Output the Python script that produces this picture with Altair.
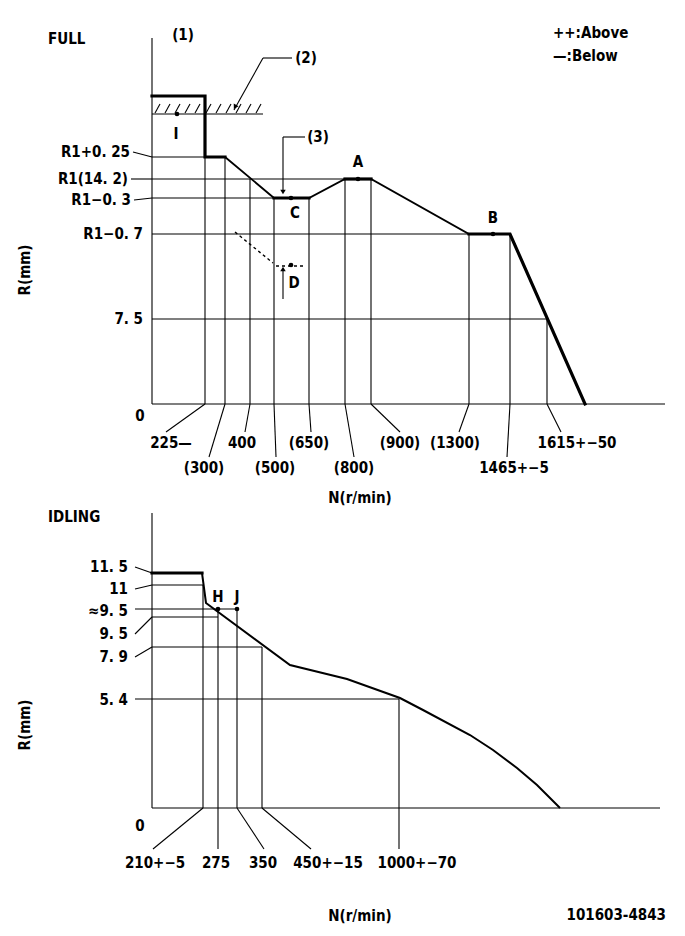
import altair as alt
import pandas as pd

FONT = "DejaVu Sans Condensed, DejaVu Sans"
FS = 15

# ------------------------------------------------------------------
# Schematic coordinates of the governor diagram (x: N position, y: R level)
# ------------------------------------------------------------------
# FULL panel
FULL_AXIS_X0, FULL_AXIS_TOP, FULL_BASE, FULL_AXIS_X1 = 152, 38, 404, 665
FULL_CURVE_X = [152, 205, 205, 225, 274, 309, 345, 371, 469, 510, 585]
FULL_CURVE_Y = [96, 96, 157, 157, 198, 198, 179, 179, 234, 234, 404]
FULL_THICK_GROUPS = [[0, 1, 2, 3], [4, 5], [6, 7], [8, 9, 10]]

FULL_R_LABELS = ["R1+0. 25", "R1(14. 2)", "R1−0. 3", "R1−0. 7", "7. 5"]
FULL_R_LEVEL = [157, 179, 198, 234, 319]
FULL_R_LABEL_Y = [152, 179, 200, 234, 319]
FULL_R_LABEL_RIGHT = [130, 128, 131, 143, 143]
FULL_R_LINE_END = [205, 345, 274, 469, 547]
FULL_R_LEADER = [True, True, True, False, False]

FULL_N_LABELS = ["225—", "(300)", "400", "(500)", "(650)", "(800)", "(900)",
                 "(1300)", "1465+−5", "1615+−50"]
FULL_N_X = [205, 225, 250, 274, 309, 345, 371, 469, 510, 547]
FULL_N_TOP = [157, 157, 179, 198, 198, 179, 179, 234, 234, 319]
FULL_N_ROW = [0, 1, 0, 1, 0, 1, 0, 0, 1, 0]
FULL_N_LABEL_X = [171, 204, 242, 275, 309, 354, 400, 455, 514, 577]
FULL_N_LEADER_END_X = [166, 209, 245, 276, 311, 354, 400, 459, 507, 561]
FULL_ROW_LEADER_END_Y = [432, 457]
FULL_ROW_LABEL_Y = [443, 468]

FULL_POINT_NAMES = ["I", "C", "A", "B", "D"]
FULL_POINT_X = [177, 291, 358, 493, 291]
FULL_POINT_Y = [114, 198, 179, 234, 265]
FULL_POINT_LABEL_X = [176, 295, 358, 493, 294]
FULL_POINT_LABEL_Y = [134, 213, 162, 218, 283]

HATCH_Y = 114
HATCH_X_END = 263
HATCH_X = [155, 165, 175, 185, 195, 206, 216, 226, 236, 246, 256]

# IDLING panel
IDLE_AXIS_TOP, IDLE_BASE, IDLE_AXIS_X1 = 513, 808, 660
IDLE_THICK_X = [152, 202]
IDLE_THICK_Y = [573, 573]
IDLE_CURVE_X = [202, 206, 290, 347, 400, 423, 470, 493, 517, 537, 560]
IDLE_CURVE_Y = [573, 603, 665, 679, 698, 710, 735, 750, 768, 785, 808]

IDLE_R_LABELS = ["11. 5", "11", "≈9. 5", "9. 5", "7. 9", "5. 4"]
IDLE_R_LEVEL = [573, 585, 609, 617, 647, 699]
IDLE_R_LABEL_Y = [567, 589, 611, 634, 657, 700]
IDLE_R_LINE_START = [152, 152, 135, 152, 152, 135]
IDLE_R_LINE_END = [152, 203, 237, 218, 262, 399]
IDLE_R_LEADER = [True, True, False, True, True, False]

IDLE_N_LABELS = ["210+−5", "275", "350", "450+−15", "1000+−70"]
IDLE_N_X = [203, 218, 237, 262, 399]
IDLE_N_TOP = [585, 609, 609, 647, 699]
IDLE_N_LABEL_X = [155, 216, 263, 328, 417]
IDLE_N_LEADER_END_X = [153, 218, 264, 311, 399]
IDLE_LEADER_END_Y = 849
IDLE_LABEL_Y = 863

IDLE_POINT_NAMES = ["H", "J"]
IDLE_POINT_X = [218, 237]
IDLE_POINT_Y = [609, 609]
IDLE_POINT_LABEL_Y = [597, 597]

# ------------------------------------------------------------------
segs = []


def seg(x, y, x2, y2):
    segs.append(dict(x=x, y=y, x2=x2, y2=y2))


# FULL axes
seg(FULL_AXIS_X0, FULL_AXIS_TOP, FULL_AXIS_X0, FULL_BASE)
seg(FULL_AXIS_X0, FULL_BASE, FULL_AXIS_X1, FULL_BASE)
for lvl, ly, lr, end, ld in zip(FULL_R_LEVEL, FULL_R_LABEL_Y, FULL_R_LABEL_RIGHT,
                                FULL_R_LINE_END, FULL_R_LEADER):
    if ld:
        seg(lr + 3, ly, FULL_AXIS_X0, lvl)
    seg(FULL_AXIS_X0, lvl, end, lvl)
for x, top, row, ex in zip(FULL_N_X, FULL_N_TOP, FULL_N_ROW, FULL_N_LEADER_END_X):
    seg(x, FULL_BASE, x, top)
    seg(x, FULL_BASE, ex, FULL_ROW_LEADER_END_Y[row])
# hatch
seg(FULL_AXIS_X0, HATCH_Y, HATCH_X_END, HATCH_Y)
for hx in HATCH_X:
    seg(hx, HATCH_Y - 1, hx + 5, HATCH_Y - 10)
# callouts (2), (3), D arrow
seg(263, 58, 292, 58)
seg(263, 58, 234, 110)
seg(283, 137, 305, 137)
seg(283, 137, 283, 190)
seg(283, 299, 283, 270)

# IDLE axes
seg(FULL_AXIS_X0, IDLE_AXIS_TOP, FULL_AXIS_X0, IDLE_BASE)
seg(FULL_AXIS_X0, IDLE_BASE, IDLE_AXIS_X1, IDLE_BASE)
for lvl, ly, st, end, ld in zip(IDLE_R_LEVEL, IDLE_R_LABEL_Y, IDLE_R_LINE_START,
                                IDLE_R_LINE_END, IDLE_R_LEADER):
    if ld:
        seg(135, ly, FULL_AXIS_X0, lvl)
    if end > st:
        seg(st, lvl, end, lvl)
for x, top, ex in zip(IDLE_N_X, IDLE_N_TOP, IDLE_N_LEADER_END_X):
    seg(x, IDLE_BASE, x, top)
    seg(x, IDLE_BASE, ex, IDLE_LEADER_END_Y)

seg_df = pd.DataFrame(segs)
dash_df = pd.DataFrame([dict(x=235, y=232, x2=273, y2=263),
                        dict(x=276, y=266, x2=304, y2=266)])

XS = alt.Scale(domain=[8, 677])
YS = alt.Scale(domain=[8, 928], reverse=True)


def X(f="x"):
    return alt.X(f"{f}:Q", scale=XS, axis=None)


def Y(f="y"):
    return alt.Y(f"{f}:Q", scale=YS, axis=None)


thin = alt.Chart(seg_df).mark_rule(color="black", strokeWidth=1.1).encode(
    x=X(), y=Y(), x2="x2:Q", y2="y2:Q")
dashed = alt.Chart(dash_df).mark_rule(color="black", strokeWidth=1.4,
                                      strokeDash=[3, 3]).encode(
    x=X(), y=Y(), x2="x2:Q", y2="y2:Q")

full_curve_df = pd.DataFrame(dict(x=FULL_CURVE_X, y=FULL_CURVE_Y,
                                  i=range(len(FULL_CURVE_X))))
full_line = alt.Chart(full_curve_df).mark_line(
    color="black", strokeWidth=1.8, strokeJoin="miter").encode(
    x=X(), y=Y(), order="i:Q")

thick_rows = []
for g, idx in enumerate(FULL_THICK_GROUPS):
    for k, i in enumerate(idx):
        thick_rows.append(dict(x=FULL_CURVE_X[i], y=FULL_CURVE_Y[i], g=g, i=k))
for k, (x, y) in enumerate(zip(IDLE_THICK_X, IDLE_THICK_Y)):
    thick_rows.append(dict(x=x, y=y, g=99, i=k))
thick_df = pd.DataFrame(thick_rows)
thick_line = alt.Chart(thick_df).mark_line(
    color="black", strokeWidth=3.2, strokeJoin="miter", strokeCap="square").encode(
    x=X(), y=Y(), detail="g:N", order="i:Q")

idle_df = pd.DataFrame(dict(x=IDLE_CURVE_X, y=IDLE_CURVE_Y,
                            i=range(len(IDLE_CURVE_X))))
idle_line = alt.Chart(idle_df).mark_line(
    color="black", strokeWidth=2).encode(x=X(), y=Y(), order="i:Q")

dots_df = pd.DataFrame(dict(x=FULL_POINT_X + IDLE_POINT_X,
                            y=FULL_POINT_Y + IDLE_POINT_Y))
dots = alt.Chart(dots_df).mark_circle(color="black", size=22, opacity=1).encode(
    x=X(), y=Y())

arrows_df = pd.DataFrame(dict(x=[235, 283, 283], y=[107, 192, 269],
                              a=[209, 180, 0]))
arrows = alt.Chart(arrows_df).mark_point(
    shape="triangle-up", filled=True, color="black", size=30, opacity=1).encode(
    x=X(), y=Y(), angle=alt.Angle("a:Q", scale=None))

# texts
right_txt = pd.DataFrame(dict(
    x=FULL_R_LABEL_RIGHT + [128] * len(IDLE_R_LABELS) + [666],
    y=FULL_R_LABEL_Y + IDLE_R_LABEL_Y + [915],
    t=FULL_R_LABELS + IDLE_R_LABELS + ["101603-4843"]))
center_txt = pd.DataFrame(dict(
    x=FULL_N_LABEL_X + IDLE_N_LABEL_X + FULL_POINT_LABEL_X + IDLE_POINT_X
    + [183, 306, 318, 140, 140, 360, 360],
    y=[FULL_ROW_LABEL_Y[r] for r in FULL_N_ROW] + [IDLE_LABEL_Y] * len(IDLE_N_LABELS)
    + FULL_POINT_LABEL_Y + IDLE_POINT_LABEL_Y
    + [35, 58, 137, 416, 826, 498, 916],
    t=FULL_N_LABELS + IDLE_N_LABELS + FULL_POINT_NAMES + IDLE_POINT_NAMES
    + ["(1)", "(2)", "(3)", "0", "0", "N(r/min)", "N(r/min)"]))
left_txt = pd.DataFrame(dict(
    x=[48, 48, 553, 553],
    y=[39, 517, 33, 56],
    t=["FULL", "IDLING", "++:Above", "—:Below"]))
rot_txt = pd.DataFrame(dict(x=[25, 25], y=[270, 725], t=["R(mm)", "R(mm)"]))


def text_layer(df, align, angle=0):
    return alt.Chart(df).mark_text(
        align=align, baseline="middle", font=FONT, fontSize=FS,
        fontWeight="bold", color="black", angle=angle).encode(
        x=X(), y=Y(), text="t:N")


chart = alt.layer(
    thin, dashed, full_line, thick_line, idle_line, dots, arrows,
    text_layer(right_txt, "right"), text_layer(center_txt, "center"),
    text_layer(left_txt, "left"), text_layer(rot_txt, "center", 270),
).properties(width=669, height=920, padding=0,
             background="white").configure_view(strokeWidth=0)

chart.save("out.html", embed_options={"renderer": "svg", "actions": False})
